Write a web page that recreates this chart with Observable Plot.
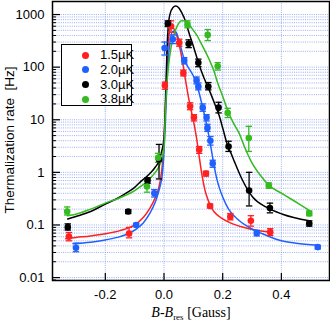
<!DOCTYPE html>
<html>
<head>
<meta charset="utf-8">
<script src="https://cdn.jsdelivr.net/npm/d3@7"></script>
<script src="https://cdn.jsdelivr.net/npm/@observablehq/plot@0.6"></script>
<style>
  html, body { margin: 0; padding: 0; background: white; }
  #wrap { position: relative; width: 330px; height: 323px; }
  #legend { position: absolute; left: 61px; top: 44px; width: 69px; height: 60px;
    border: 1.5px solid black; background: white; font-family: "Liberation Sans", Arial, sans-serif;
    font-size: 13px; color: black; }
  .row { position: absolute; left: 0; height: 14px; line-height: 14px; }
  .sw { position: absolute; left: 20px; top: 3.5px; width: 7px; height: 7px; border-radius: 50%; }
  .lb { position: absolute; left: 38px; top: 0; white-space: nowrap; }
</style>
</head>
<body>
<div id="wrap"></div>
<script>
// ---------- data ----------
const series = ["1.5µK", "2.0µK", "3.0µK", "3.8µK"];

const xTicks = [-0.2, 0.0, 0.2, 0.4];
const yTicks = [0.01, 0.1, 1, 10, 100, 1000];

// measured points (x, rate, error low, error high)
const redX  = [-0.324, -0.119, 0.003, 0.024, 0.052, 0.066, 0.089, 0.102, 0.12, 0.143, 0.157, 0.226, 0.296, 0.362];
const redY  = [0.06, 0.069, 45, 600, 290, 77, 18, 11, 2.7, 0.95, 0.23, 0.144, 0.12, 0.073];
const redLo = [0.05, 0.057, 38, 460, 250, 68, 15.5, 9.5, 2.3, 0.85, 0.21, 0.125, 0.095, 0.063];
const redHi = [0.072, 0.09, 52, 760, 340, 88, 21, 12.5, 3.1, 1.05, 0.25, 0.165, 0.15, 0.085];

const blueX  = [-0.30, -0.095, -0.033, 0.002, 0.03, 0.069, 0.111, 0.117, 0.132, 0.145, 0.148, 0.158, 0.166, 0.316, 0.524];
const blueY  = [0.037, 0.10, 0.4, 230, 340, 133, 56, 43, 17, 11, 7, 4, 1.47, 0.07, 0.038];
const blueLo = [0.031, 0.094, 0.34, 170, 280, 115, 48, 37, 14.5, 9.5, 6, 3.3, 1.25, 0.062, 0.035];
const blueHi = [0.045, 0.107, 0.47, 300, 410, 152, 65, 50, 20, 12.5, 8.2, 4.8, 1.7, 0.079, 0.041];

const blackX  = [-0.328, -0.122, -0.056, -0.017, 0.013, 0.084, 0.117, 0.151, 0.186, 0.22, 0.29, 0.361, 0.495];
const blackY  = [0.091, 0.18, 0.7, 1.75, 670, 277, 121, 43, 17, 3.1, 0.45, 0.21, 0.107];
const blackLo = [0.08, 0.165, 0.62, 0.75, 590, 235, 102, 37, 13.5, 2.5, 0.23, 0.17, 0.095];
const blackHi = [0.105, 0.195, 0.79, 3.4, 760, 330, 142, 51, 21.5, 3.9, 1.0, 0.26, 0.12];

const greenX  = [-0.33, -0.058, -0.02, 0.08, 0.149, 0.183, 0.217, 0.289, 0.357, 0.495];
const greenY  = [0.18, 0.54, 1.9, 650, 410, 104, 13.5, 4.5, 0.56, 0.166];
const greenLo = [0.155, 0.42, 1.55, 560, 320, 88, 11, 2.5, 0.5, 0.15];
const greenHi = [0.22, 0.68, 2.3, 760, 520, 122, 16.5, 7.5, 0.63, 0.185];

// fitted curves
const redCurveX = [-0.335, -0.3, -0.25, -0.2, -0.15, -0.1, -0.07, -0.05, -0.03, -0.015, -0.005, 0.0, 0.005, 0.01, 0.015, 0.02, 0.025, 0.035, 0.045, 0.055, 0.065, 0.075, 0.085, 0.095, 0.105, 0.115, 0.12, 0.13, 0.14, 0.15, 0.16, 0.17, 0.2, 0.234, 0.29, 0.37];
const redCurveY = [0.055, 0.058, 0.062, 0.068, 0.078, 0.10, 0.14, 0.20, 0.33, 0.6, 1.5, 4, 20, 100, 300, 520, 600, 520, 370, 220, 110, 50, 24, 13, 7, 3.2, 2.0, 0.85, 0.45, 0.3, 0.22, 0.18, 0.13, 0.105, 0.085, 0.072];

const blueCurveX = [-0.31, -0.25, -0.2, -0.15, -0.1, -0.07, -0.05, -0.03, -0.015, -0.005, 0.0, 0.005, 0.01, 0.015, 0.02, 0.03, 0.04, 0.05, 0.06, 0.07, 0.08, 0.09, 0.1, 0.11, 0.12, 0.13, 0.14, 0.15, 0.16, 0.17, 0.18, 0.19, 0.2, 0.22, 0.25, 0.29, 0.35, 0.4, 0.45, 0.524];
const blueCurveY = [0.044, 0.047, 0.052, 0.06, 0.08, 0.11, 0.16, 0.27, 0.5, 1.0, 2.5, 10, 50, 150, 290, 480, 470, 340, 210, 135, 105, 85, 68, 50, 32, 19, 11, 6, 3, 1.4, 0.75, 0.48, 0.34, 0.2, 0.13, 0.09, 0.063, 0.05, 0.045, 0.041];

const blackCurveX = [-0.328, -0.3, -0.25, -0.2, -0.15, -0.124, -0.1, -0.078, -0.06, -0.044, -0.03, -0.016, -0.008, 0.0, 0.005, 0.01, 0.015, 0.02, 0.03, 0.04, 0.05, 0.06, 0.075, 0.085, 0.1, 0.12, 0.135, 0.154, 0.17, 0.188, 0.2, 0.217, 0.23, 0.24, 0.268, 0.302, 0.347, 0.404, 0.495];
const blackCurveY = [0.13, 0.145, 0.18, 0.25, 0.34, 0.42, 0.52, 0.68, 0.82, 1.0, 1.25, 1.7, 2.5, 4.5, 20, 200, 650, 1000, 1350, 1450, 1350, 1100, 700, 450, 250, 110, 65, 37, 22, 12, 7, 3.2, 2.2, 1.6, 0.7, 0.34, 0.22, 0.16, 0.12];

const greenCurveX = [-0.33, -0.3, -0.25, -0.2, -0.15, -0.1, -0.078, -0.06, -0.04, -0.02, -0.01, 0.0, 0.005, 0.01, 0.02, 0.03, 0.04, 0.05, 0.06, 0.07, 0.08, 0.09, 0.1, 0.11, 0.13, 0.154, 0.17, 0.183, 0.2, 0.217, 0.235, 0.257, 0.275, 0.296, 0.325, 0.359, 0.404, 0.461, 0.495];
const greenCurveY = [0.15, 0.16, 0.2, 0.26, 0.33, 0.45, 0.55, 0.65, 0.85, 1.2, 1.6, 3, 15, 50, 170, 350, 520, 680, 760, 760, 700, 600, 500, 420, 260, 140, 85, 50, 28, 15, 9, 5.4, 3, 1.66, 0.93, 0.56, 0.39, 0.25, 0.19];

// ---------- tables ----------
const ptSets = [[redX, redY, redLo, redHi], [blueX, blueY, blueLo, blueHi], [blackX, blackY, blackLo, blackHi], [greenX, greenY, greenLo, greenHi]];
const points = ptSets.flatMap(([xs, ys, lo, hi], i) => xs.map((x, j) => ({series: series[i], x, y: ys[j], lo: lo[j], hi: hi[j]})));
const crvSets = [[redCurveX, redCurveY], [blueCurveX, blueCurveY], [blackCurveX, blackCurveY], [greenCurveX, greenCurveY]];
const curves = crvSets.flatMap(([xs, ys], i) => xs.map((x, j) => ({series: series[i], x, y: ys[j]})));

const colors = ["#ff2020", "#2060ff", "#000000", "#33bb1f"];
const xDomain = [-0.380, 0.564];
const yDomain = [0.0088, 1770];
const yMinor = d3.scaleLog().domain(yDomain).ticks().filter(v => !yTicks.includes(v));
const yAll = d3.scaleLog().domain(yDomain).ticks();

const capSymbol = {draw(ctx) { ctx.moveTo(-3.2, 0); ctx.lineTo(3.2, 0); }};
const innerW = 330 - 52 - 1, innerH = 323 - 1 - 43;

const chart = Plot.plot({
  width: 330, height: 323,
  marginLeft: 52, marginRight: 1, marginTop: 1, marginBottom: 43,
  style: {fontFamily: "'Liberation Sans', Arial, sans-serif", fontSize: "13px", color: "black", background: "white"},
  x: {type: "linear", domain: xDomain},
  y: {type: "log", domain: yDomain},
  color: {domain: series, range: colors},
  marks: [
    Plot.gridY(yAll, {stroke: "#91a5f2", strokeOpacity: 0.9, strokeDasharray: "1,1.2"}),
    Plot.gridX(xTicks, {stroke: "#91a5f2", strokeOpacity: 0.9, strokeDasharray: "1,1.2"}),
    Plot.line(curves, {x: "x", y: "y", z: "series", stroke: "series", strokeWidth: 1.5, curve: "monotone-x", clip: true}),
    Plot.ruleX(points, {x: "x", y1: "lo", y2: "hi", stroke: "series", strokeWidth: 1.3}),
    Plot.dot(points, {x: "x", y: "lo", symbol: capSymbol, stroke: "series", strokeWidth: 1.3, r: 3}),
    Plot.dot(points, {x: "x", y: "hi", symbol: capSymbol, stroke: "series", strokeWidth: 1.3, r: 3}),
    Plot.dot(points, {x: "x", y: "y", fill: "series", r: 3.3}),
    Plot.tickY(yMinor, {y: d => d, stroke: "black", strokeWidth: 1, insetRight: innerW - 4}),
    Plot.tickY(yTicks, {y: d => d, stroke: "black", strokeWidth: 1.2, insetRight: innerW - 8}),
    Plot.tickX(xTicks, {x: d => d, stroke: "black", strokeWidth: 1.2, insetTop: innerH - 7}),
    Plot.axisY(yTicks, {tickSize: 0, tickPadding: 8, tickFormat: d => String(d), label: null, fontSize: 13}),
    Plot.axisX(xTicks, {tickSize: 0, tickPadding: 9, tickFormat: d => d.toFixed(1), label: null, fontSize: 13}),
    Plot.frame({stroke: "black", strokeWidth: 1.5})
  ]
});

const wrap = document.getElementById("wrap");
wrap.appendChild(chart);

const svg = d3.select(chart);
svg.append("text")
  .attr("transform", "translate(9,140) rotate(-90)")
  .attr("text-anchor", "middle")
  .attr("dominant-baseline", "central")
  .attr("font-family", "'Liberation Sans', Arial, sans-serif")
  .attr("font-size", 13.5)
  .attr("fill", "black")
  .style("white-space", "pre")
  .text("Thermalization rate  [Hz]");

const xl = svg.append("text")
  .attr("x", 191).attr("y", 317)
  .attr("text-anchor", "middle")
  .attr("font-family", "'Liberation Serif', 'Times New Roman', serif")
  .attr("font-size", 14)
  .attr("fill", "black");
xl.append("tspan").attr("font-style", "italic").text("B");
xl.append("tspan").text("-");
xl.append("tspan").attr("font-style", "italic").text("B");
xl.append("tspan").attr("font-size", 9).attr("dy", 3).text("res");
xl.append("tspan").attr("dy", -3).text(" [Gauss]");

// legend
const legend = document.createElement("div");
legend.id = "legend";
series.forEach((s, i) => {
  const row = document.createElement("div");
  row.className = "row";
  row.style.top = (3 + i * 14.8) + "px";
  row.style.width = "100%";
  const sw = document.createElement("div");
  sw.className = "sw";
  sw.style.background = colors[i];
  const lb = document.createElement("div");
  lb.className = "lb";
  lb.textContent = s;
  row.appendChild(sw); row.appendChild(lb);
  legend.appendChild(row);
});
wrap.appendChild(legend);
</script>
</body>
</html>
